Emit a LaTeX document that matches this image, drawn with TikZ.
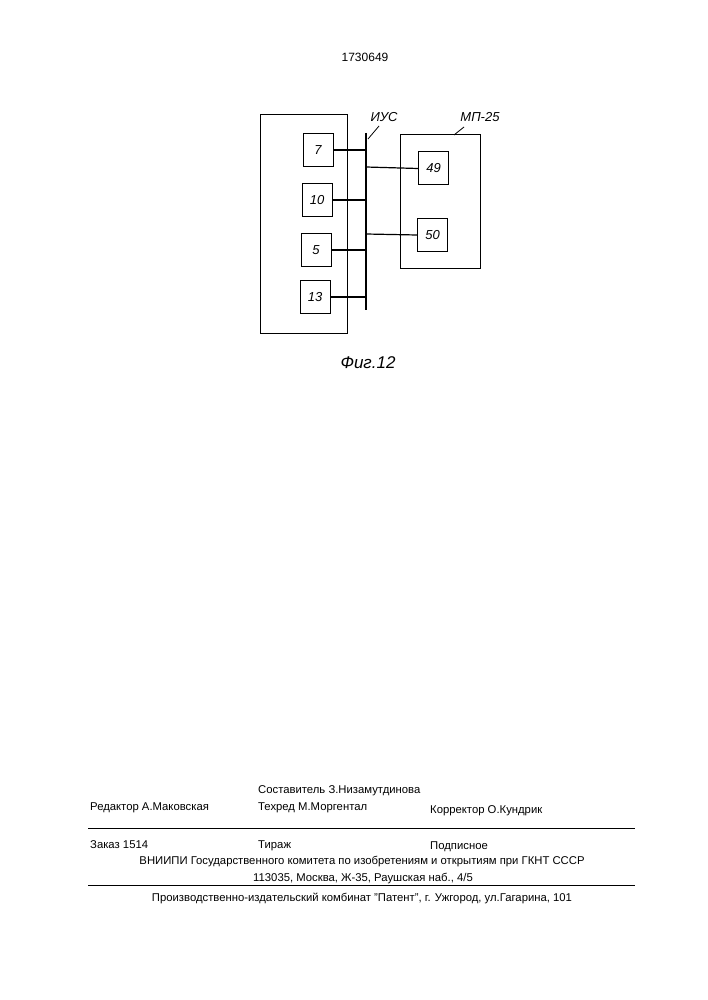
\documentclass[tikz,border=0pt]{standalone}
\usepackage{fontspec}
\setmainfont{Liberation Sans}
\begin{document}
\begin{tikzpicture}[x=1pt,y=-1pt,
  blk/.style={draw,line width=1pt,minimum width=30pt,minimum height=33pt,inner sep=0pt,font=\fontsize{13}{13}\selectfont\itshape},
  ln/.style={line width=1.2pt},
  ft/.style={font=\fontsize{11.3}{12}\selectfont,inner sep=0pt}]
\useasboundingbox (0,0) rectangle (707,1000);
\node[ft,font=\fontsize{12}{12}\selectfont] (num) at (365,57) {1730649};
\node[draw,line width=1pt,minimum width=87pt,minimum height=218pt] (L) at (303.5,224) {};
\node[draw,line width=1pt,minimum width=80pt,minimum height=133pt] (R) at (440,201.5) {};
\node[blk] (b7) at (318,150) {7};
\node[blk] (b10) at (317,200) {10};
\node[blk] (b5) at (316,250) {5};
\node[blk] (b13) at (315,297) {13};
\node[blk] (b49) at (433.5,168.5) {49};
\node[blk] (b50) at (432.5,235) {50};
\coordinate (bt) at (366,133); \coordinate (bb) at (366,310);
\draw[line width=2.5pt] (bt) -- (bb);
\foreach \n/\y in {b7/150,b10/200,b5/250,b13/297} \draw[ln] (\n.east) -- (366,\y);
\draw[ln] (366,167) -- (b49.west);
\draw[ln] (366,234) -- (b50.west);
\node[font=\fontsize{13}{13}\selectfont\itshape] (ius) at (384,117) {ИУС};
\draw[line width=0.8pt] (368,139) -- (379,126);
\node[font=\fontsize{13}{13}\selectfont\itshape] (mp) at (480,117) {МП-25};
\draw[line width=0.8pt] (454,135) -- (464,127);
\node[font=\fontsize{17}{17}\selectfont\itshape] (fig) at (368,363) {Фиг.12};
\node[ft,anchor=west] (sost) at (258,791) {Составитель З.Низамутдинова};
\node[ft,anchor=west] (red) at (90,808) {Редактор А.Маковская};
\node[ft,anchor=west] (tech) at (258,808) {Техред М.Моргентал};
\node[ft,anchor=west] (korr) at (430,811) {Корректор О.Кундрик};
\draw[line width=0.8pt] (88,828) -- (635,828);
\node[ft,anchor=west] (zak) at (90,845) {Заказ 1514};
\node[ft,anchor=west] (tir) at (258,846) {Тираж};
\node[ft,anchor=west] (pod) at (430,847) {Подписное};
\node[ft] (vn) at (362,862) {ВНИИПИ Государственного комитета по изобретениям и открытиям при ГКНТ СССР};
\node[ft] (adr) at (363,879) {113035, Москва, Ж-35, Раушская наб., 4/5};
\draw[line width=0.8pt] (88,885) -- (635,885);
\node[ft] (pr) at (362,898) {Производственно-издательский комбинат "Патент", г. Ужгород, ул.Гагарина, 101};
\end{tikzpicture}
\end{document}
